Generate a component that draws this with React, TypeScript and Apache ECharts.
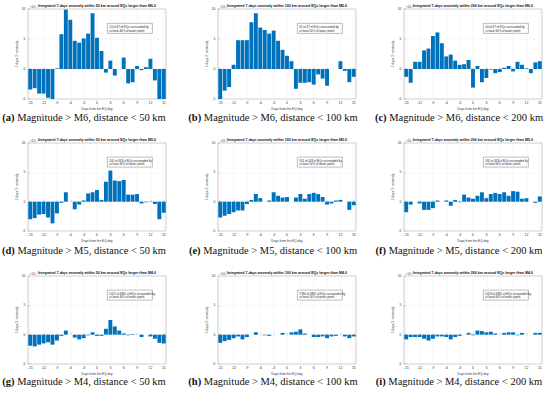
import React, { useEffect, useRef } from "react";
import * as echarts from "echarts";

const days = ["-15","-14","-13","-12","-11","-10","-9","-8","-7","-6","-5","-4","-3","-2","-1","0","1","2","3","4","5","6","7","8","9","10","11","12","13","14","15"];

const yTicks = { min: -5, max: 10, step: 5 };

const seriesA = [-3.4,-3.2,-4.1,-4.1,-4.8,-5,0.1,5.8,9.9,8.2,4.7,4.4,5.1,5.9,9.3,5.2,3.0,-0.6,1.4,-1.1,0,1.9,-2.4,-2.2,0.5,-0.2,0.3,1.7,-1.9,-5,-5];
const seriesB = [-5,-3.6,-3.0,0.7,4.8,4.8,4.8,7.8,9.3,6.9,6.5,5.9,6.4,4.7,3.2,2.2,1.3,-3.3,-2.3,-2.3,-2.2,-2.6,-0.9,-1.6,-2.8,0,0,1.3,-0.3,-2.2,-1.3];
const seriesC = [-1.3,-2.3,1.2,1.2,3.1,3.4,5.5,6.1,4.3,2.1,2.4,1.4,0.7,0.8,1.5,-3.1,0.5,-2.2,-1.5,-0.1,-0.7,-0.5,0.2,0.5,-0.4,1.2,0.7,0.1,-0.7,1.1,1.3];
const seriesD = [-3.0,-2.8,-2.2,-2.1,-2.7,-3.7,-2.0,-0.2,1.6,0,-1.3,-0.5,0.2,1.4,1.6,2.0,0.3,3.4,5.3,3.6,3.5,3.7,1.2,1.2,1.3,-0.3,-0.1,0.05,-0.4,-3.0,-1.9];
const seriesE = [-2.7,-2.4,-2.1,-1.8,-1.5,-1.5,-0.4,0.3,1.3,0.6,0,0.2,1.6,1.0,0.7,0.8,0,0.7,1.3,0.5,1.3,1.5,1.3,0.8,-0.5,-0.3,0.2,0.3,0,-1.4,-0.6];
const seriesF = [-1.8,-0.5,0,-0.3,-1.4,-1.4,-1.1,0.2,0,0.2,-0.7,0.3,-0.1,1.2,0.7,0.5,1.0,1.6,0.6,1.3,1.5,1.3,1.6,1.0,1.8,1.7,0.5,0.6,0,-0.2,0.9];
const seriesG = [-1.9,-2.0,-1.7,-1.5,-1.3,-1.7,-1.0,-0.2,0.7,0,-0.5,-0.8,-0.6,-0.1,0.4,-0.2,-0.2,1.0,2.5,1.4,0.7,0.2,-0.1,0.1,0,-0.4,0,-0.3,-0.7,-1.4,-1.5];
const seriesH = [-1.4,-1.1,-0.9,-0.6,-0.3,-0.8,-0.4,0,0.4,0,-0.1,-0.2,0,0,0.3,0,0.4,0.5,0.9,0.2,0,-0.4,-0.4,-0.3,-0.6,-0.3,-0.2,0,-0.3,-0.6,-0.3];
const seriesI = [-0.8,-0.4,-0.4,-0.4,-0.7,-1.0,-0.7,-0.3,-0.3,-0.4,-0.8,-0.4,-0.2,0,0.3,-0.1,0.7,0.6,0.4,0.5,0.2,0,0.3,0.4,0.4,-0.1,0.3,0,0,0.3,0.3];

const allSeries = [seriesA, seriesB, seriesC, seriesD, seriesE, seriesF, seriesG, seriesH, seriesI];

const distances = ["50", "100", "200"];
const magnitudes = ["6", "5", "4"];
const letters = ["a", "b", "c", "d", "e", "f", "g", "h", "i"];
const notesLine1 = [
  "24 of 47 of EQs surrounded by",
  "41 of 47 of EQs surrounded by",
  "44 of 47 of EQs surrounded by",
  "201 of 418 of EQs surrounded by",
  "301 of 418 of EQs surrounded by",
  "381 of 418 of EQs surrounded by",
  "2421 of 4881 of EQs surrounded by",
  "3786 of 4881 of EQs surrounded by",
  "4423 of 4881 of EQs surrounded by",
];
const notesLine2 = [
  "at least 40% of water pixels",
  "at least 50% of water pixels",
  "at least 60% of water pixels",
  "at least 40% of water pixels",
  "at least 50% of water pixels",
  "at least 60% of water pixels",
  "at least 40% of water pixels",
  "at least 50% of water pixels",
  "at least 60% of water pixels",
];

const colLeft = [28, 218, 404];
const colWidth = 138;
const rowTop = [9, 143, 276];
const rowHeight = [90, 88, 88];
const captionY = [117, 250, 381];
const captionX = [84, 273, 459];

const BAR = "#0072BD";
const FONT = "Liberation Sans, Arial, sans-serif";

export default function App() {
  const ref = useRef<HTMLDivElement>(null);
  useEffect(() => {
    if (!ref.current) return;
    const chart = echarts.init(ref.current, null, { renderer: "svg" });
    const grids: any[] = [];
    const xAxes: any[] = [];
    const yAxes: any[] = [];
    const series: any[] = [];
    const graphics: any[] = [];
    for (let i = 0; i < 9; i++) {
      const r = Math.floor(i / 3);
      const c = i % 3;
      const left = colLeft[c];
      const top = rowTop[r];
      const h = rowHeight[r];
      grids.push({
        left, top, width: colWidth, height: h,
        show: true, borderColor: "#9a9a9a", borderWidth: 0.5, backgroundColor: "#ffffff",
      });
      xAxes.push({
        type: "category", gridIndex: i, data: days,
        axisLine: { show: false },
        axisTick: { show: true, alignWithLabel: true, interval: 2, inside: true, length: 1.2, lineStyle: { color: "#555", width: 0.4 } },
        axisLabel: { interval: 2, fontSize: 3.4, color: "#333", margin: 2, fontFamily: FONT },
        splitLine: { show: true, interval: 2, alignWithLabel: true, lineStyle: { color: "#e8e8e8", width: 0.4 } },
        name: "Days from the EQ day", nameLocation: "middle", nameGap: 8.5,
        nameTextStyle: { fontSize: 3.2, color: "#333", fontFamily: FONT },
      });
      yAxes.push({
        type: "value", gridIndex: i, min: yTicks.min, max: yTicks.max, interval: yTicks.step,
        axisLine: { show: false },
        axisTick: { show: true, inside: true, length: 1.2, lineStyle: { color: "#555", width: 0.4 } },
        axisLabel: { fontSize: 3.4, color: "#333", margin: 2.5, fontFamily: FONT },
        splitLine: { show: true, lineStyle: { color: "#e8e8e8", width: 0.4 } },
        name: "7-days Σ{k|k} anomaly", nameLocation: "middle", nameGap: 8, nameRotate: 90,
        nameTextStyle: { fontSize: 3.2, color: "#333", fontFamily: FONT, rich: { k: { fontSize: 2.4, verticalAlign: "bottom", color: "#333" } } },
      });
      series.push({
        type: "bar", xAxisIndex: i, yAxisIndex: i, data: allSeries[i],
        itemStyle: { color: BAR }, barCategoryGap: "12%", clip: true,
      });
      const cx = left + colWidth / 2;
      graphics.push({
        type: "text", x: cx, y: top - 3.2,
        style: {
          text: `Integrated 7-days anomaly within ${distances[c]} km around EQs larger than M${magnitudes[r]}.0`,
          fontSize: 3.6, fontWeight: "bold", fill: "#111", align: "center", verticalAlign: "middle", fontFamily: FONT,
        },
      });
      graphics.push({
        type: "text", x: left + 2, y: top - 2.4,
        style: { text: "×10⁻³", fontSize: 3, fill: "#333", align: "left", verticalAlign: "middle", fontFamily: FONT },
      });
      const bx = left + 0.575 * colWidth;
      const by = top + 0.16 * h;
      graphics.push({
        type: "rect", shape: { x: bx, y: by, width: 45, height: 10 },
        style: { fill: "#fff", stroke: "#555", lineWidth: 0.4 },
      });
      graphics.push({
        type: "text", x: bx + 2, y: by + 5,
        style: {
          text: notesLine1[i] + "\n" + notesLine2[i],
          fontSize: 2.9, lineHeight: 3.8, fill: "#222", align: "left", verticalAlign: "middle", fontFamily: FONT,
        },
      });
      graphics.push({
        type: "text", x: captionX[c], y: captionY[r],
        style: {
          text: `{b|(${letters[i]})} Magnitude > M${magnitudes[r]}, distance < ${distances[c]} km`,
          fontSize: 10.5, fill: "#111", align: "center", verticalAlign: "middle", fontFamily: "Liberation Serif, serif",
          rich: { b: { fontSize: 10.5, fontWeight: "bold", fill: "#111", fontFamily: "Liberation Serif, serif" } },
        },
      });
    }
    chart.setOption({
      animation: false,
      backgroundColor: "#ffffff",
      grid: grids,
      xAxis: xAxes,
      yAxis: yAxes,
      series,
      graphic: graphics,
    });
    return () => chart.dispose();
  }, []);
  return <div ref={ref} style={{ position: "fixed", left: 0, top: 0, width: 550, height: 397 }} />;
}
